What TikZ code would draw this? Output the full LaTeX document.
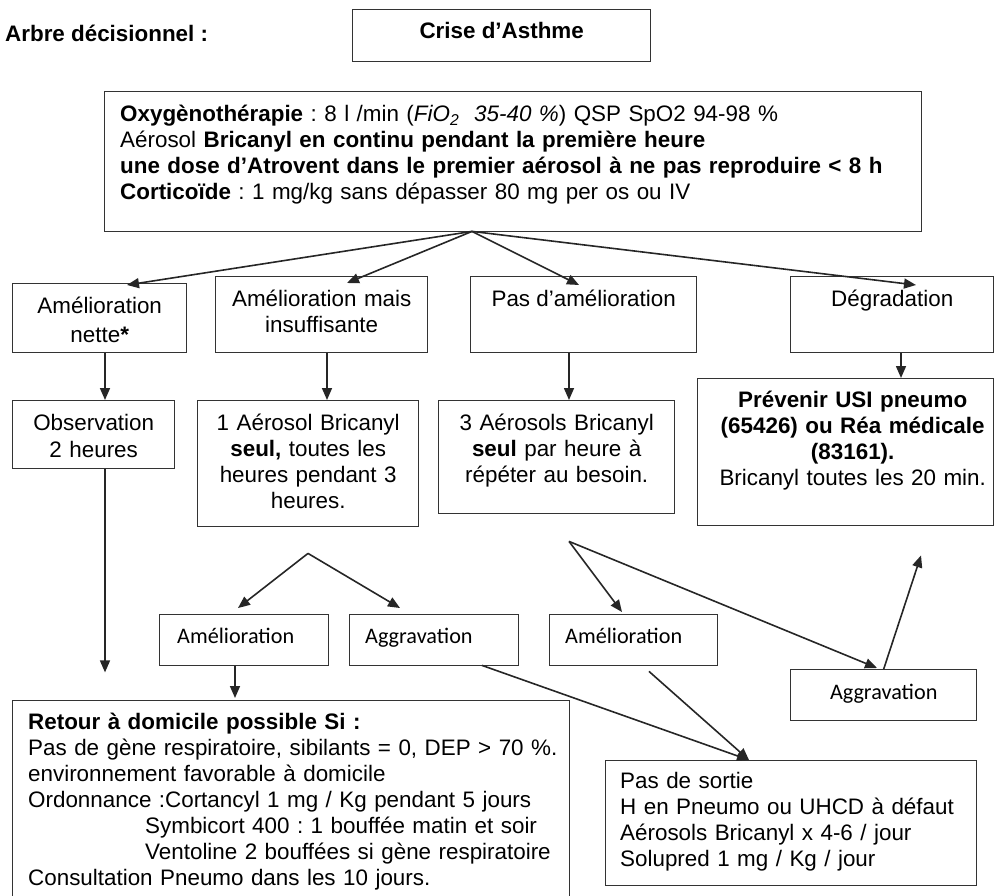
\documentclass[tikz,border=0pt]{standalone}
\usepackage{fontspec}
\setmainfont{Liberation Sans}
\newfontfamily\calibri{Carlito}
\usetikzlibrary{arrows.meta,calc}
\frenchspacing

\tikzset{
  boite/.style={draw=black!80, line width=1.4pt, inner sep=0pt, anchor=north west},
  texte/.style={inner sep=0pt, anchor=base, align=center},
  petit/.style={inner sep=0pt, anchor=base west, font=\calibri\fontsize{22.2}{26}\selectfont},
  fleche/.style={draw=black!85, line width=1.6pt, -{Triangle[length=12pt,width=10pt]}}
}

\begin{document}
\begin{tikzpicture}[x=1pt, y=-1pt, font=\fontsize{22.4}{26}\selectfont]
    \useasboundingbox (0,0) rectangle (995,896);

    % Titre
    \node[texte, anchor=base west] (titre) at (5,42) {\textbf{Arbre décisionnel :}};
    \node[boite, minimum width=298, minimum height=52] (crise) at (352,9) {};
    \node[texte] (crisetxt) at ($(crise.north)+(0,30)$) {\textbf{Crise d’Asthme}};

    % Prise en charge initiale
    \node[boite, minimum width=817, minimum height=140] (oxy) at (104,91) {};
    \node[texte, anchor=base west, align=left, text width=790] (oxytxt) at ($(oxy.north west)+(16,31)$)
        {\textbf{Oxygènothérapie} : 8 l /min (\textit{FiO\textsubscript{2}~~35-40 \%}) QSP SpO2 94-98 \%\\
         Aérosol \textbf{Bricanyl en continu pendant la première heure}\\
         \textbf{une dose d’Atrovent dans le premier aérosol à ne pas reproduire < 8 h}\\
         \textbf{Corticoïde} : 1 mg/kg sans dépasser 80 mg per os ou IV};

    % Evaluation
    \node[boite, minimum width=174, minimum height=69] (nette) at (12,283) {};
    \node[boite, minimum width=212, minimum height=76] (mais) at (215,276) {};
    \node[boite, minimum width=226, minimum height=76] (pas) at (470,276) {};
    \node[boite, minimum width=203, minimum height=76] (degr) at (790,276) {};
    \node[texte, text width=170] (nettetxt) at ($(nette.north)+(0,30)$) {Amélioration\\[3pt]nette\textbf{*}};
    \node[texte, text width=210] (maistxt) at ($(mais.north)+(0,30)$) {Amélioration mais\\insuffisante};
    \node[texte] (pastxt) at ($(pas.north)+(0,30)$) {Pas d’amélioration};
    \node[texte] (degrtxt) at ($(degr.north)+(0,30)$) {Dégradation};

    % Conduite a tenir
    \node[boite, minimum width=162, minimum height=68] (obs) at (12,400) {};
    \node[boite, minimum width=221, minimum height=126] (un) at (197,400) {};
    \node[boite, minimum width=236, minimum height=113] (trois) at (438,400) {};
    \node[boite, minimum width=296, minimum height=147] (prev) at (697,378) {};
    \node[texte, text width=160] (obstxt) at ($(obs.north)+(0,30)$) {Observation\\[1pt]2 heures};
    \node[texte, text width=215] (untxt) at ($(un.north)+(0,30)$)
        {1 Aérosol Bricanyl\\\textbf{seul,} toutes les\\heures pendant 3\\heures.};
    \node[texte, text width=230] (troistxt) at ($(trois.north)+(0,30)$)
        {3 Aérosols Bricanyl\\\textbf{seul} par heure à\\répéter au besoin.};
    \node[texte, text width=290] (prevtxt) at ($(prev.north)+(7,29)$)
        {\textbf{Prévenir USI pneumo}\\\textbf{(65426) ou Réa médicale}\\\textbf{(83161).}\\Bricanyl toutes les 20 min.};

    % Reevaluation
    \node[boite, minimum width=169, minimum height=51] (ameL) at (159,614) {};
    \node[boite, minimum width=169, minimum height=51] (aggL) at (349,614) {};
    \node[boite, minimum width=168, minimum height=51] (ameR) at (549,614) {};
    \node[boite, minimum width=186, minimum height=51] (aggR) at (790,669) {};
    \node[petit] (ameLtxt) at ($(ameL.north west)+(18,29)$) {Amélioration};
    \node[petit] (aggLtxt) at ($(aggL.north west)+(16,29)$) {Aggravation};
    \node[petit] (ameRtxt) at ($(ameR.north west)+(16,29)$) {Amélioration};
    \node[petit, anchor=base] (aggRtxt) at ($(aggR.north)+(0,30)$) {Aggravation};

    % Orientation
    \node[boite, minimum width=557, minimum height=200] (retour) at (12,700) {};
    \node[boite, minimum width=371, minimum height=125] (sortie) at (605,760) {};
    \node[texte, anchor=base west, align=left, text width=545] (retourtxt) at ($(retour.north west)+(16,29)$)
        {\textbf{Retour à domicile possible Si :}\\
         Pas de gène respiratoire, sibilants = 0, DEP > 70 \%.\\
         environnement favorable à domicile\\
         Ordonnance :Cortancyl 1 mg / Kg pendant 5 jours\\
         \hspace*{117pt}Symbicort 400 : 1 bouffée matin et soir\\
         \hspace*{117pt}Ventoline 2 bouffées si gène respiratoire\\
         Consultation Pneumo dans les 10 jours.};
    \node[texte, anchor=base west, align=left, text width=355] (sortietxt) at ($(sortie.north west)+(15,28)$)
        {Pas de sortie\\
         H en Pneumo ou UHCD à défaut\\
         Aérosols Bricanyl x 4-6 / jour\\
         Solupred 1 mg / Kg / jour};

    % Fleches
    \coordinate (f0) at ($(oxy.south west)+(368,-1)$);
    \draw[fleche] (f0) -- ($(nette.north west)+(115,2)$);
    \draw[fleche] (f0) -- ($(mais.north west)+(132,7)$);
    \draw[fleche] (f0) -- ($(pas.north west)+(109,9)$);
    \draw[fleche] (f0) -- ($(degr.north west)+(126,9)$);

    \draw[fleche] ($(nette.south west)+(93,0)$) -- ($(obs.north west)+(93,0)$);
    \draw[fleche] ($(mais.south west)+(112,0)$) -- ($(un.north west)+(130,0)$);
    \draw[fleche] ($(pas.south west)+(99,0)$) -- ($(trois.north west)+(131,0)$);
    \draw[fleche] ($(degr.south west)+(111,0)$) -- ($(prev.north west)+(204,0)$);

    \coordinate (obsfin) at ($(obs.south west)+(93,203)$);
    \draw[fleche] ($(obs.south west)+(93,0)$) -- (obsfin);

    \coordinate (f1) at ($(un.south west)+(111,26)$);
    \draw[fleche] (f1) -- ($(ameL.north west)+(79,-6)$);
    \draw[fleche] (f1) -- ($(aggL.north west)+(51,-6)$);
    \draw[fleche] ($(ameL.south west)+(76,0)$) -- ($(retour.north west)+(223,-2)$);

    \coordinate (f2) at ($(trois.south west)+(131,27)$);
    \draw[fleche] (f2) -- ($(ameR.north west)+(73,-2)$);
    \draw[fleche] (f2) -- ($(aggR.north west)+(87,-1)$);

    \coordinate (prevfin) at ($(prev.south west)+(224,29)$);
    \draw[fleche] (aggR.north) -- (prevfin);

    \draw[fleche] ($(aggL.south west)+(133,-1)$) -- ($(sortie.north west)+(144,0)$);
    \draw[fleche] ($(ameR.south west)+(100,5)$) -- ($(sortie.north west)+(144,0)$);
\end{tikzpicture}
\end{document}
